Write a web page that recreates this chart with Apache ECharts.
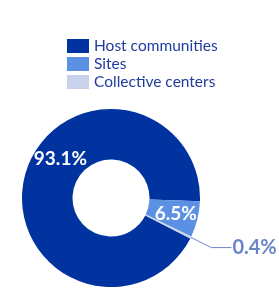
<!DOCTYPE html>
<html>
<head>
<meta charset="utf-8">
<script src="https://cdn.jsdelivr.net/npm/echarts@6/dist/echarts.min.js"></script>
<style>
  html, body { margin: 0; padding: 0; background: #fff; }
  #chart { width: 279px; height: 288px; }
</style>
</head>
<body>
<div id="chart"></div>
<script>
var categories = ['Host communities', 'Sites', 'Collective centers'];
var shares = [93.1, 6.5, 0.4];
var colors = ['#0033A0', '#5B90E3', '#C8D2EA'];

var myChart = echarts.init(document.getElementById('chart'));

var data = [];
for (var i = 0; i < categories.length; i++) {
    data.push({
        name: categories[i],
        value: shares[i],
        itemStyle: { color: colors[i] }
    });
}
// the big slice label sits a bit higher than the mid point
data[0].label = { offset: [14, -22] };
// tiny slice gets its label outside with a leader line
data[2].label = {
    position: 'outside',
    color: '#6A86C8',
    fontSize: 20,
    distanceToLabelLine: 1
};
data[2].labelLine = {
    show: true,
    length: 23,
    length2: 20,
    smooth: false,
    lineStyle: { color: '#6A86C8', width: 1 }
};

myChart.setOption({
    animation: false,
    legend: {
        orient: 'vertical',
        left: 62,
        top: 33,
        itemWidth: 22,
        itemHeight: 14,
        itemGap: 2,
        icon: 'rect',
        data: categories,
        textStyle: {
            fontFamily: 'Lato',
            fontSize: 15.5,
            color: '#1F3C9C'
        }
    },
    series: [{
        type: 'pie',
        center: [111, 198],
        radius: [38.5, 89],
        startAngle: 333,
        clockwise: true,
        avoidLabelOverlap: false,
        label: {
            show: true,
            position: 'inside',
            formatter: function (p) { return p.value.toFixed(1) + '%'; },
            fontFamily: 'Lato',
            fontWeight: 'bold',
            fontSize: 19,
            color: '#ffffff'
        },
        labelLine: { show: false },
        emphasis: { disabled: true },
        data: data
    }]
});
</script>
</body>
</html>
